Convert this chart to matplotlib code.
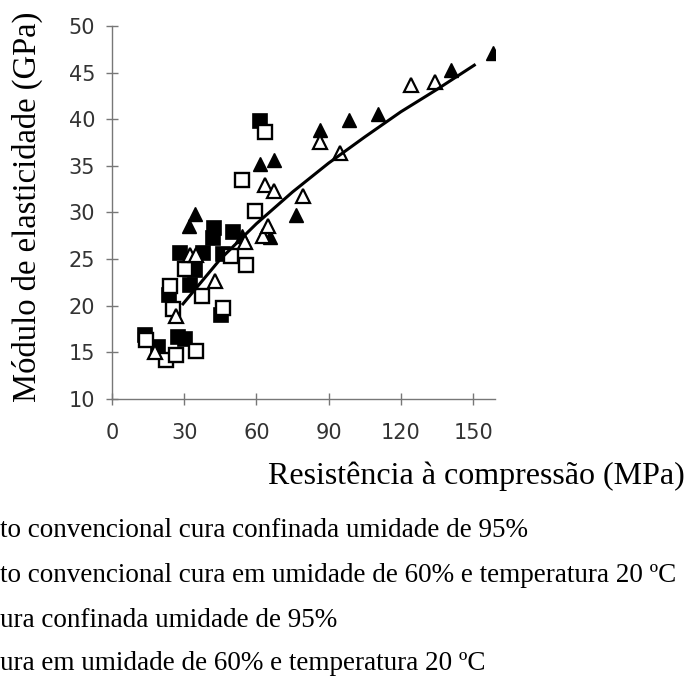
import matplotlib
matplotlib.use("Agg")
import matplotlib.pyplot as plt

# compressive strength (MPa) vs modulus of elasticity (GPa)
sq_fill_x = [13.6, 19.0, 27.4, 30.2, 23.5, 32.2, 34.3, 28.1, 38.0, 46.0, 45.4, 42.3, 41.9, 50.2, 61.3]
sq_fill_y = [16.9, 15.6, 16.7, 16.4, 21.1, 22.2, 23.8, 25.7, 25.7, 25.5, 19.0, 28.3, 27.3, 27.9, 39.8]

sq_open_x = [14.3, 22.6, 26.7, 35.0, 25.2, 23.9, 30.2, 37.3, 46.0, 49.5, 55.8, 54.0, 63.6, 59.5]
sq_open_y = [16.3, 14.2, 14.7, 15.2, 19.6, 22.1, 23.9, 21.0, 19.8, 25.3, 24.4, 33.5, 38.6, 30.2]

tri_fill_x = [31.8, 34.3, 54.0, 61.3, 67.3, 65.8, 76.3, 86.2, 98.3, 110.4, 141.0, 158.3]
tri_fill_y = [28.5, 29.8, 27.5, 35.2, 35.6, 27.4, 29.7, 38.8, 39.9, 40.6, 45.3, 47.1]

tri_open_x = [18.0, 26.7, 32.2, 35.0, 42.6, 55.1, 62.9, 64.7, 63.4, 67.3, 79.4, 86.2, 94.6, 124.3, 134.0]
tri_open_y = [15.0, 18.9, 25.4, 25.4, 22.7, 26.8, 27.5, 28.5, 32.9, 32.3, 31.8, 37.6, 36.4, 43.7, 44.0]

# fitted curve, points
fit_x = [29.5, 45, 60, 75, 90, 105, 120, 135, 150.5]
fit_y = [20.2, 25.0, 28.8, 32.2, 35.3, 38.1, 40.8, 43.2, 45.8]

xticks = [0, 30, 60, 90, 120, 150]
yticks = [10, 15, 20, 25, 30, 35, 40, 45, 50]

legend_lines = [
    "to convencional cura confinada umidade de 95%",
    "to convencional cura em umidade de 60% e temperatura 20 \u00baC",
    "ura confinada umidade de 95%",
    "ura em umidade de 60% e temperatura 20 \u00baC",
]

W, H = 688, 677
fig = plt.figure(figsize=(W / 100, H / 100), dpi=100)
ax = fig.add_axes([112 / W, 278 / H, 383 / W, 373 / H])

ax.plot(sq_fill_x, sq_fill_y, ls="none", marker="s", ms=9.5, mfc="black", mec="black", mew=1.2)
ax.plot(sq_open_x, sq_open_y, ls="none", marker="s", ms=9.5, mfc="white", mec="black", mew=1.7)
ax.plot(tri_fill_x, tri_fill_y, ls="none", marker="^", ms=10.5, mfc="black", mec="black", mew=1.0)
ax.plot(tri_open_x, tri_open_y, ls="none", marker="^", ms=10.5, mfc="white", mec="black", mew=1.6)
ax.plot(fit_x, fit_y, color="black", lw=2.2, zorder=5)

ax.set_xlim(0, 159.1)
ax.set_ylim(10, 50)
ax.set_xticks(xticks)
ax.set_yticks(yticks)

for side in ["top", "right"]:
    ax.spines[side].set_visible(False)
for side in ["left", "bottom"]:
    ax.spines[side].set_color("#777777")
    ax.spines[side].set_linewidth(1.0)

ax.tick_params(direction="inout", length=8, width=1, color="#777777",
               labelsize=15, labelcolor="#333333")
ax.tick_params(axis="x", pad=13)
ax.tick_params(axis="y", pad=8)

serif = "Liberation Serif"
fig.text(27 / W, 1 - 207 / H, "M\u00f3dulo de elasticidade (GPa)", rotation=90,
         ha="center", va="center", fontsize=23.5, family=serif)
fig.text(476 / W, 1 - 476 / H, "Resist\u00eancia \u00e0 compress\u00e3o (MPa)",
         ha="center", va="center", fontsize=23, family=serif)

line_y = [537, 582, 627, 670]
for txt, yb in zip(legend_lines, line_y):
    fig.text(0, 1 - yb / H, txt, ha="left", va="baseline", fontsize=19.5, family=serif)

fig.savefig("out.png", dpi=100)
